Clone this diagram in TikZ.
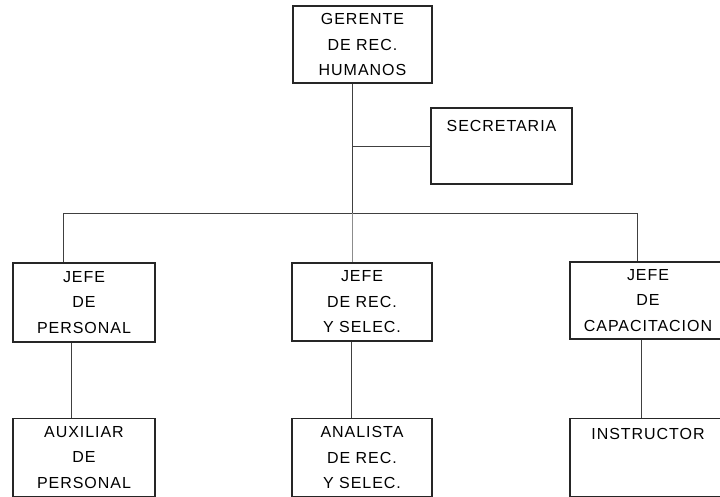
\documentclass[tikz,border=0pt]{standalone}
\usepackage{fontspec}
\setmainfont{Liberation Sans}[LetterSpace=6]
\begin{document}
\begin{tikzpicture}[x=1pt,y=-1pt,
  line width=1.2pt,
  box/.style={draw=black!85, rectangle, inner sep=0pt, align=center,
    text=black, font=\fontsize{16}{25.5}\selectfont},
  wire/.style={draw=black!75, line width=0.9pt},
  toptext/.style={inner sep=0pt, anchor=north, text=black,
    font=\fontsize{16}{25.5}\selectfont}]
\useasboundingbox (0,0) rectangle (720,497);
\clip (0,0) rectangle (720,497);

% management
\node[box, minimum width=139, minimum height=77] (ger) at (362.5,44.5)
  {GERENTE\\DE REC.\\HUMANOS};
\node[box, minimum width=141, minimum height=76,
  label={[toptext, yshift=-12pt]north:SECRETARIA}] (sec) at (501.5,146) {};

% department heads
\node[box, minimum width=142, minimum height=79] (jp) at (84,302.5)
  {JEFE\\DE\\PERSONAL};
\node[box, minimum width=140, minimum height=78] (jr) at (362,302)
  {JEFE\\DE REC.\\Y SELEC.};
\node[box, minimum width=156, minimum height=77] (jc) at (648,300.5)
  {JEFE\\DE\\CAPACITACION};

% staff
\node[box, minimum width=142, minimum height=78] (aux) at (84,457.5)
  {AUXILIAR\\DE\\PERSONAL};
\node[box, minimum width=140, minimum height=78] (ana) at (362,457.5)
  {ANALISTA\\DE REC.\\Y SELEC.};
\node[box, minimum width=156, minimum height=78,
  label={[toptext, yshift=-10pt]north:INSTRUCTOR}] (ins) at (648,457.5) {};

% bus points
\coordinate (busL) at (63,213);
\coordinate (busM) at (352,213);
\coordinate (busR) at (637,213);

% connectors
\draw[wire] (ger.south -| busM) -- (busM);
\draw[wire] (busM |- sec.west) -- (sec.west);
\draw[wire] (jp.north -| busL) |- (busR) -- (jc.north -| busR);
\draw[wire, draw=black!45] (busM) -- (jr.north -| busM);
\draw[wire] ([xshift=-13pt]jp.south) -- ([xshift=-13pt]aux.north);
\draw[wire] ([xshift=-11pt]jr.south) -- ([xshift=-11pt]ana.north);
\draw[wire] ([xshift=-7pt]jc.south) -- ([xshift=-7pt]ins.north);
\end{tikzpicture}
\end{document}
